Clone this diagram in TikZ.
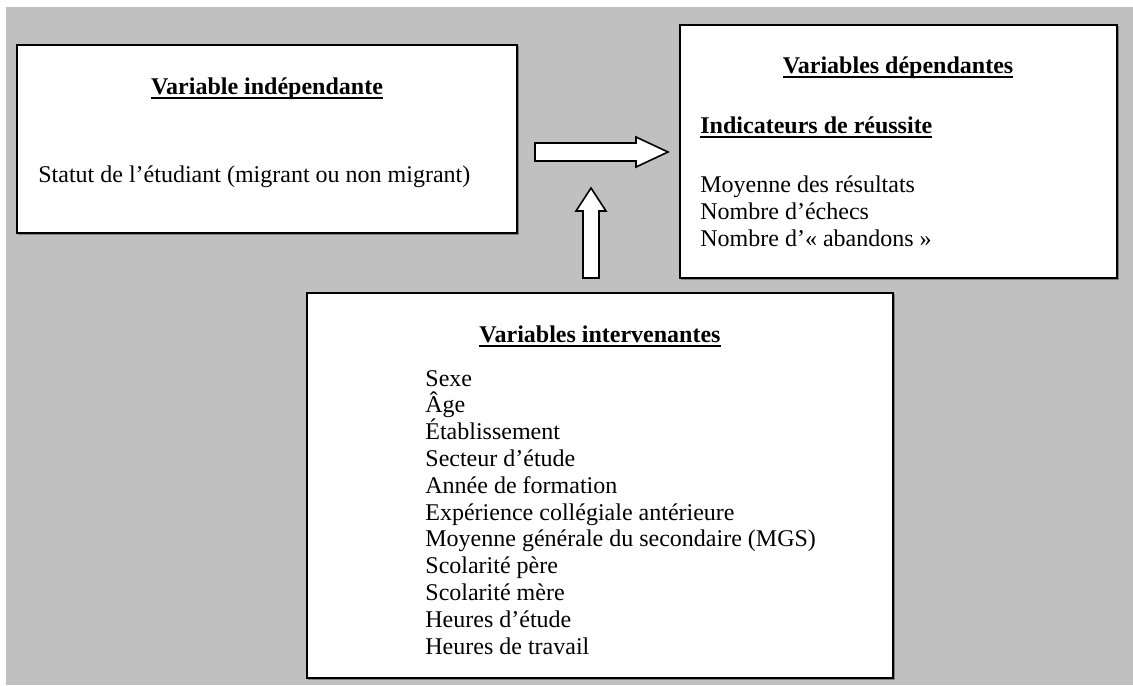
\documentclass[tikz,border=0pt]{standalone}
\usepackage{fontspec}
\setmainfont{Liberation Serif}
\definecolor{bggray}{HTML}{C0C0C0}
\definecolor{shadowgray}{HTML}{808080}
\newcommand{\ulx}[1]{\leavevmode\setbox0\hbox{#1}\rlap{\raisebox{-2.3pt}{\rule{\wd0}{0.9pt}}}\box0}
\tikzset{
  panel/.style={draw=black, line width=1pt, fill=white, inner sep=0pt},
  shadowbox/.style={draw=shadowgray, line width=0.8pt, inner sep=0pt},
  txt/.style={inner sep=0pt, font=\fontsize{12pt}{13.4pt}\selectfont},
  blockarrow/.style={draw=black, line width=0.8pt, fill=white, line join=miter},
}
\begin{document}
\begin{tikzpicture}[x=0.5pt, y=-0.5pt]
\useasboundingbox (0,0) rectangle (1133,685);
\fill[bggray] (6,7) rectangle (1133,685);
% shadows
\node[shadowbox, minimum width=250pt, minimum height=94pt] (lsh) at (268.5,140.5) {};
\node[shadowbox, minimum width=218.5pt, minimum height=126.5pt] (rsh) at (900,153) {};
\node[shadowbox, minimum width=293pt, minimum height=192.5pt] (bsh) at (601.5,487) {};
% boxes
\node[panel, minimum width=250pt, minimum height=94pt] (indep) at (267,139) {};
\node[panel, minimum width=218.5pt, minimum height=126.5pt] (dep) at (898.5,151.5) {};
\node[panel, minimum width=293pt, minimum height=192.5pt] (inter) at (600,485.5) {};
% left box text
\node[txt, anchor=base] (t1) at (267,94) {\textbf{\ulx{Variable indépendante}}};
\node[txt, anchor=base west] (t2) at (38,182) {Statut de l’étudiant (migrant ou non migrant)};
% right box text
\node[txt, anchor=base] (t3) at (898,73) {\textbf{\ulx{Variables dépendantes}}};
\node[txt, anchor=base west] (t4) at (700,133) {\textbf{\ulx{Indicateurs de réussite}}};
\node[txt, anchor=base west] (t5) at (700,192) {Moyenne des résultats};
\node[txt, anchor=base west] (t6) at (700,219) {Nombre d’échecs};
\node[txt, anchor=base west] (t7) at (700,246) {Nombre d’« abandons »};
% bottom box text
\node[txt, anchor=base] (t8) at (600,342) {\textbf{\ulx{Variables intervenantes}}};
\foreach \lbl [count=\i from 0] in {Sexe,Âge,Établissement,Secteur d’étude,Année de formation,Expérience collégiale antérieure,Moyenne générale du secondaire (MGS),Scolarité père,Scolarité mère,Heures d’étude,Heures de travail}
  \node[txt, anchor=base west] (l\i) at (425,{386+26.8*\i}) {\lbl};
% block arrows
\draw[blockarrow] (535,143) -- (636,143) -- (636,137) -- (668,152) -- (636,167) -- (636,161) -- (535,161) -- cycle;
\draw[blockarrow] (583,278) -- (583,211) -- (576,211) -- (591,188) -- (606,211) -- (599,211) -- (599,278) -- cycle;
\end{tikzpicture}
\end{document}
